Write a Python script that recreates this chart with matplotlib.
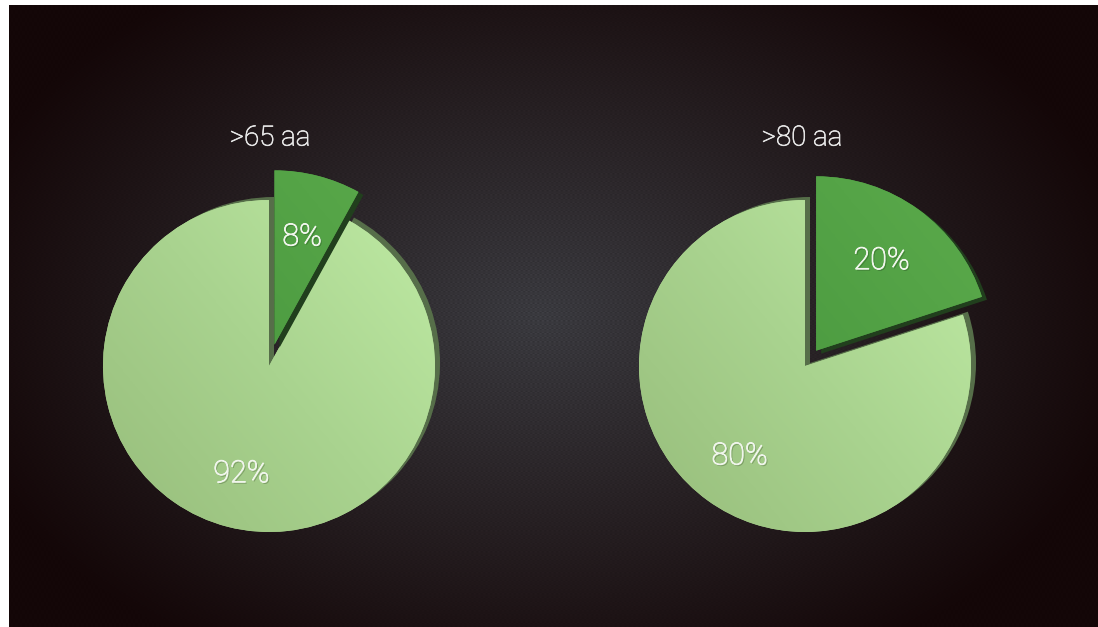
import numpy as np
import matplotlib
matplotlib.use("Agg")
import matplotlib.pyplot as plt
from matplotlib.colors import LinearSegmentedColormap
from matplotlib.transforms import Affine2D
from matplotlib.patches import Wedge
import matplotlib.patheffects as pe

# ---- data ----
titles = [">65 aa", ">80 aa"]
older_share = [8, 20]     # exploded (dark green) slice, %
rest_share = [92, 80]     # remaining (light green) slice, %

W, H = 1098, 627
fig = plt.figure(figsize=(W / 100, H / 100), dpi=100, facecolor="white")

# ---- background (radial dark gradient with fine dot texture) ----
bx0, btop = 9, 5
bw, bh = W - bx0, H - btop
yy, xx = np.mgrid[0:bh, 0:bw].astype(float)
d = np.sqrt(((xx - 530) / 600) ** 2 + ((yy - 310) / 400) ** 2)
t = np.clip(d, 0, 1) ** 1.0
inner = np.array([0x3a, 0x3a, 0x3f]) / 255
outer = np.array([0x14, 0x07, 0x08]) / 255
bg = inner * (1 - t[..., None]) + outer * t[..., None]
row = np.floor(yy / 4.2)
tex = np.cos(2 * np.pi * xx / 4.7 + np.pi * (row % 2)) * np.cos(np.pi * yy / 4.2) ** 2
bg = bg * (1 + 0.12 * tex[..., None] * (1 - 0.7 * t[..., None]))
bg = np.clip(bg, 0, 1)
bax = fig.add_axes([bx0 / W, 0, bw / W, bh / H])
bax.imshow(bg, aspect="auto", interpolation="nearest")
bax.set_axis_off()

# ---- pies ----
ax = fig.add_axes([0, 0, 1, 1])
ax.set_facecolor("none")
ax.set_axis_off()

R = 166
centers = [(269, H - 366), (805, H - 366)]
explodes = [22.0, 19.0]          # offsets in pixels (data units)
title_pos = [(270, H - 138), (802, H - 138)]

light_cmap = LinearSegmentedColormap.from_list("lg", ["#97bd7b", "#a9d38f", "#bfeba4"])
dark_cmap = LinearSegmentedColormap.from_list("dg", ["#3c8834", "#4e9d42", "#5cab4c"])

font = ["Roboto", "DejaVu Sans"]
pct_color = "#f0f5ec"
title_color = "#e6e6e6"
pct_fx = [pe.withSimplePatchShadow(offset=(1, -1), shadow_rgbFace="black", alpha=0.25),
          pe.Stroke(linewidth=0.6, foreground=pct_color), pe.Normal()]
title_fx = [pe.Stroke(linewidth=0.5, foreground=title_color), pe.Normal()]


def grad_fill(wedge, cmap, cx, cy, r, z):
    n = 200
    gy, gx = np.mgrid[0:n, 0:n] / (n - 1)
    g = 0.55 * gx + 0.45 * gy
    im = ax.imshow(g, cmap=cmap, origin="lower", extent=(cx - r, cx + r, cy - r, cy + r),
                   interpolation="bilinear", zorder=z, vmin=0, vmax=1)
    im.set_clip_path(wedge)


for i in range(2):
    cx, cy = centers[i]
    wedges, texts, autotexts = ax.pie(
        [older_share[i], rest_share[i]], startangle=90, counterclock=False,
        center=centers[i], radius=R, explode=[explodes[i], 0],
        autopct="%.0f%%", pctdistance=0.67, frame=False,
        wedgeprops=dict(linewidth=0),
        textprops=dict(color=pct_color, fontsize=22, family=font, fontweight="light"))
    sl, main = wedges

    # main (light) wedge with olive side face
    main.set_facecolor("#a9d38f")
    main.set_zorder(2)
    side = Wedge(main.center, main.r, main.theta1, main.theta2, facecolor="#566e49",
                 linewidth=0, zorder=1.5,
                 transform=ax.transData + Affine2D().translate(5, 3))
    ax.add_patch(side)
    grad_fill(main, light_cmap, cx, cy, R, 2.1)

    # exploded (dark) slice, slightly raised
    sl.set_radius(R * 1.05)
    sl.set_facecolor("#4e9d42")
    sl.set_zorder(4)
    rim = Wedge(sl.center, sl.r, sl.theta1, sl.theta2, facecolor="#213f1d",
                linewidth=0, zorder=3.5,
                transform=ax.transData + Affine2D().translate(5, -3))
    ax.add_patch(rim)
    scx, scy = sl.center
    grad_fill(sl, dark_cmap, scx, scy, R * 1.05, 4.1)

    for tx in autotexts:
        tx.set_zorder(6)
        tx.set_path_effects(pct_fx)

    ax.text(title_pos[i][0], title_pos[i][1], titles[i], ha="center", va="center",
            fontsize=20, color=title_color, family=font, fontweight="light", zorder=6,
            path_effects=title_fx)

ax.set_xlim(0, W)
ax.set_ylim(0, H)
ax.set_aspect("auto")

fig.savefig("out.png", dpi=100, facecolor="white")
